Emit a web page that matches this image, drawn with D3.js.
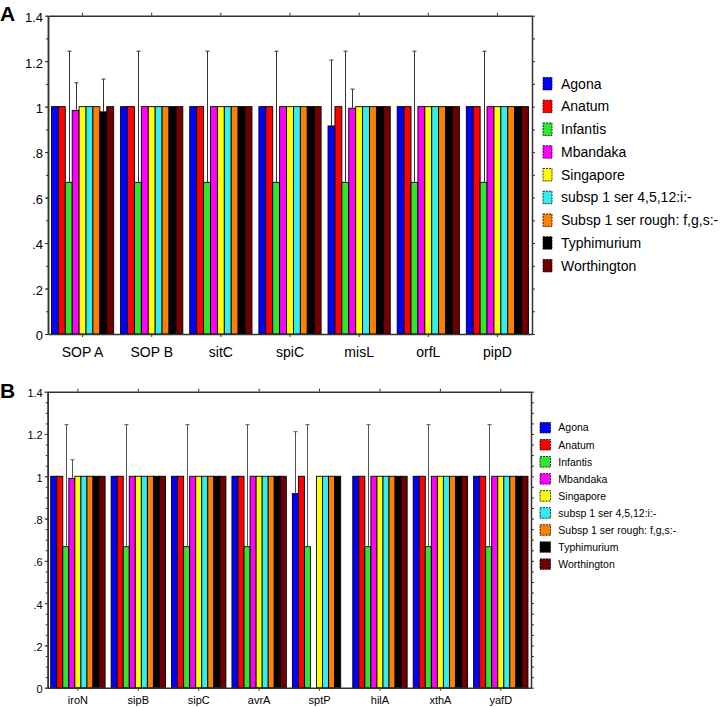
<!DOCTYPE html>
<html><head><meta charset="utf-8">
<script src="https://cdn.jsdelivr.net/npm/d3@7"></script>
<style>
body{margin:0;background:#fff}
svg{display:block}
text{font-family:"Liberation Sans",Arial,Helvetica,sans-serif}
</style>
</head><body>
<svg id="chart" width="720" height="707"></svg>
<script>
// ---------- data ----------
const seriesNames = ["Agona","Anatum","Infantis","Mbandaka","Singapore","subsp 1 ser 4,5,12:i:-","Subsp 1 ser rough: f,g,s:-","Typhimurium","Worthington"];
const seriesColors = ["#0000ff","#ff0000","#2ee82e","#ff00ff","#ffff00","#33eeee","#ff8000","#000000","#700000"];
const yTickValues = [0,0.2,0.4,0.6,0.8,1,1.2,1.4];
const yTickLabels = ["0",".2",".4",".6",".8","1","1.2","1.4"];

// Panel A
const genesA = ["SOP A","SOP B","sitC","spiC","misL","orfL","pipD"];
const agonaA       = [1,1,1,1,0.915,1,1];
const anatumA      = [1,1,1,1,1,1,1];
const infantisA    = [0.667,0.667,0.667,0.667,0.667,0.667,0.667];
const mbandakaA    = [0.983,1,1,1,0.993,1,1];
const singaporeA   = [1,1,1,1,1,1,1];
const subspA       = [1,1,1,1,1,1,1];
const roughA       = [1,1,1,1,1,1,1];
const typhimuriumA = [0.977,1,1,1,1,1,1];
const worthingtonA = [1,1,1,1,1,1,1];
// upper error (SD) A
const agonaErrA       = [0,0,0,0,0.29,0,0];
const infantisErrA    = [0.577,0.577,0.577,0.577,0.577,0.577,0.577];
const mbandakaErrA    = [0.122,0,0,0,0.084,0,0];
const typhimuriumErrA = [0.144,0,0,0,0,0,0];

// Panel B
const genesB = ["iroN","sipB","sipC","avrA","sptP","hilA","xthA","yafD"];
const agonaB       = [1,1,1,1,0.918,1,1,1];
const anatumB      = [1,1,1,1,1,1,1,1];
const infantisB    = [0.667,0.667,0.667,0.667,0.667,0.667,0.667,0.667];
const mbandakaB    = [0.99,1,1,1,0,1,1,1];
const singaporeB   = [1,1,1,1,1,1,1,1];
const subspB       = [1,1,1,1,1,1,1,1];
const roughB       = [1,1,1,1,1,1,1,1];
const typhimuriumB = [1,1,1,1,1,1,1,1];
const worthingtonB = [1,1,1,1,0,1,1,1];
// upper error (SD) B
const agonaErrB    = [0,0,0,0,0.293,0,0,0];
const infantisErrB = [0.577,0.577,0.577,0.577,0.577,0.577,0.577,0.577];
const mbandakaErrB = [0.088,0,0,0,0,0,0,0];

const zerosA = genesA.map(()=>0), zerosB = genesB.map(()=>0);

const svg = d3.select("#chart");
const axisColor = "#333";

function drawPanel(o){
  const g = svg.append("g");
  const x = d3.scaleBand().domain(o.cats).range([o.left,o.right]).paddingInner(0.1).paddingOuter(0.05);
  const xs = d3.scaleBand().domain(d3.range(seriesNames.length)).range([0,x.bandwidth()]);
  const y = d3.scaleLinear().domain([0,1.4]).range([o.bottom,o.top]);

  // bars
  const rows = [];
  o.cats.forEach((c,ci)=>o.means.forEach((arr,si)=>{
    rows.push({c, si, v:arr[ci], e:o.errs[si][ci]});
  }));
  g.append("g").selectAll("rect").data(rows.filter(d=>d.v>0)).join("rect")
    .attr("x",d=>x(d.c)+xs(d.si))
    .attr("y",d=>y(d.v))
    .attr("width",xs.bandwidth())
    .attr("height",d=>y(0)-y(d.v))
    .attr("fill",d=>seriesColors[d.si])
    .attr("stroke","#000").attr("stroke-width",0.9);

  // error bars (upper only)
  const eg = g.append("g").attr("stroke",o.errColor).attr("stroke-width",1).attr("fill","none");
  rows.filter(d=>d.e>0).forEach(d=>{
    const cx = Math.round(x(d.c)+xs(d.si)+xs.bandwidth()/2)+0.5;
    eg.append("line").attr("x1",cx).attr("x2",cx).attr("y1",y(d.v)).attr("y2",y(d.v+d.e));
    eg.append("line").attr("x1",cx-2).attr("x2",cx+2).attr("y1",y(d.v+d.e)).attr("y2",y(d.v+d.e));
  });

  // axes
  const styleAxis = sel=>{
    sel.selectAll(".domain").attr("stroke",axisColor).attr("stroke-width",1.5);
    sel.selectAll(".tick line").attr("stroke",axisColor);
    sel.selectAll("text").attr("fill","#000").style("font-family","Liberation Sans, Arial, sans-serif");
  };
  g.append("g").attr("transform",`translate(${o.left},0)`)
    .call(d3.axisLeft(y).tickValues(d3.range(0,1.4001,o.minorStep)).tickFormat("").tickSize(2).tickSizeOuter(0))
    .call(styleAxis);
  const yl = g.append("g").attr("transform",`translate(${o.left},0)`)
    .call(d3.axisLeft(y).tickValues(yTickValues).tickFormat((d,i)=>yTickLabels[i]).tickSize(3).tickPadding(2).tickSizeOuter(0))
    .call(styleAxis);
  yl.selectAll("text").style("font-size",o.yFont+"px").attr("dy","0.45em");
  g.append("g").attr("transform",`translate(${o.right},0)`)
    .call(d3.axisRight(y).tickValues(d3.range(0,1.4001,o.minorStep)).tickFormat("").tickSize(3).tickSizeOuter(0))
    .call(styleAxis);
  g.append("g").attr("transform",`translate(0,${o.top})`)
    .call(d3.axisTop(x).tickFormat("").tickSize(3).tickSizeOuter(0))
    .call(styleAxis);
  const xb = g.append("g").attr("transform",`translate(0,${o.bottom})`)
    .call(d3.axisBottom(x).tickSize(3).tickPadding(o.xPad).tickSizeOuter(0))
    .call(styleAxis);
  xb.selectAll("text").style("font-size",o.xFont+"px");

  // panel letter
  svg.append("text").attr("x",0).attr("y",o.letterY).text(o.letter)
    .style("font-size","21px").style("font-weight","bold").attr("fill","#000");

  // legend
  const lg = svg.append("g");
  seriesNames.forEach((n,i)=>{
    const cy = o.legY + i*o.legStep;
    lg.append("rect").attr("x",o.legX).attr("y",cy-o.swH/2).attr("width",o.swW).attr("height",o.swH)
      .attr("fill",seriesColors[i]).attr("stroke","#000").attr("stroke-width",0.8).attr("stroke-dasharray","2,1");
    lg.append("text").attr("x",o.legTextX).attr("y",cy)
      .attr("dy","0.36em").text(n)
      .style("font-size",o.legFont+"px").attr("fill","#000");
  });
}

drawPanel({
  letter:"A", letterY:20.5,
  cats:genesA,
  means:[agonaA,anatumA,infantisA,mbandakaA,singaporeA,subspA,roughA,typhimuriumA,worthingtonA],
  errs:[agonaErrA,zerosA,infantisErrA,mbandakaErrA,zerosA,zerosA,zerosA,typhimuriumErrA,zerosA],
  left:48, right:532, top:15.7, bottom:334,
  minorStep:0.1, yFont:13, xFont:14, xPad:10,
  errColor:"#333",
  legX:543, legTextX:561, legY:83.7, legStep:22.75, swW:9, swH:12.5, legFont:14
});

drawPanel({
  letter:"B", letterY:397.5,
  cats:genesB,
  means:[agonaB,anatumB,infantisB,mbandakaB,singaporeB,subspB,roughB,typhimuriumB,worthingtonB],
  errs:[agonaErrB,zerosB,infantisErrB,mbandakaErrB,zerosB,zerosB,zerosB,zerosB,zerosB],
  left:47.7, right:531, top:391.7, bottom:687.7,
  minorStep:0.05, yFont:11, xFont:11, xPad:6,
  errColor:"#555",
  legX:540, legTextX:558.3, legY:427.7, legStep:17.05, swW:10.5, swH:10.5, legFont:10.5
});
</script>
</body></html>
